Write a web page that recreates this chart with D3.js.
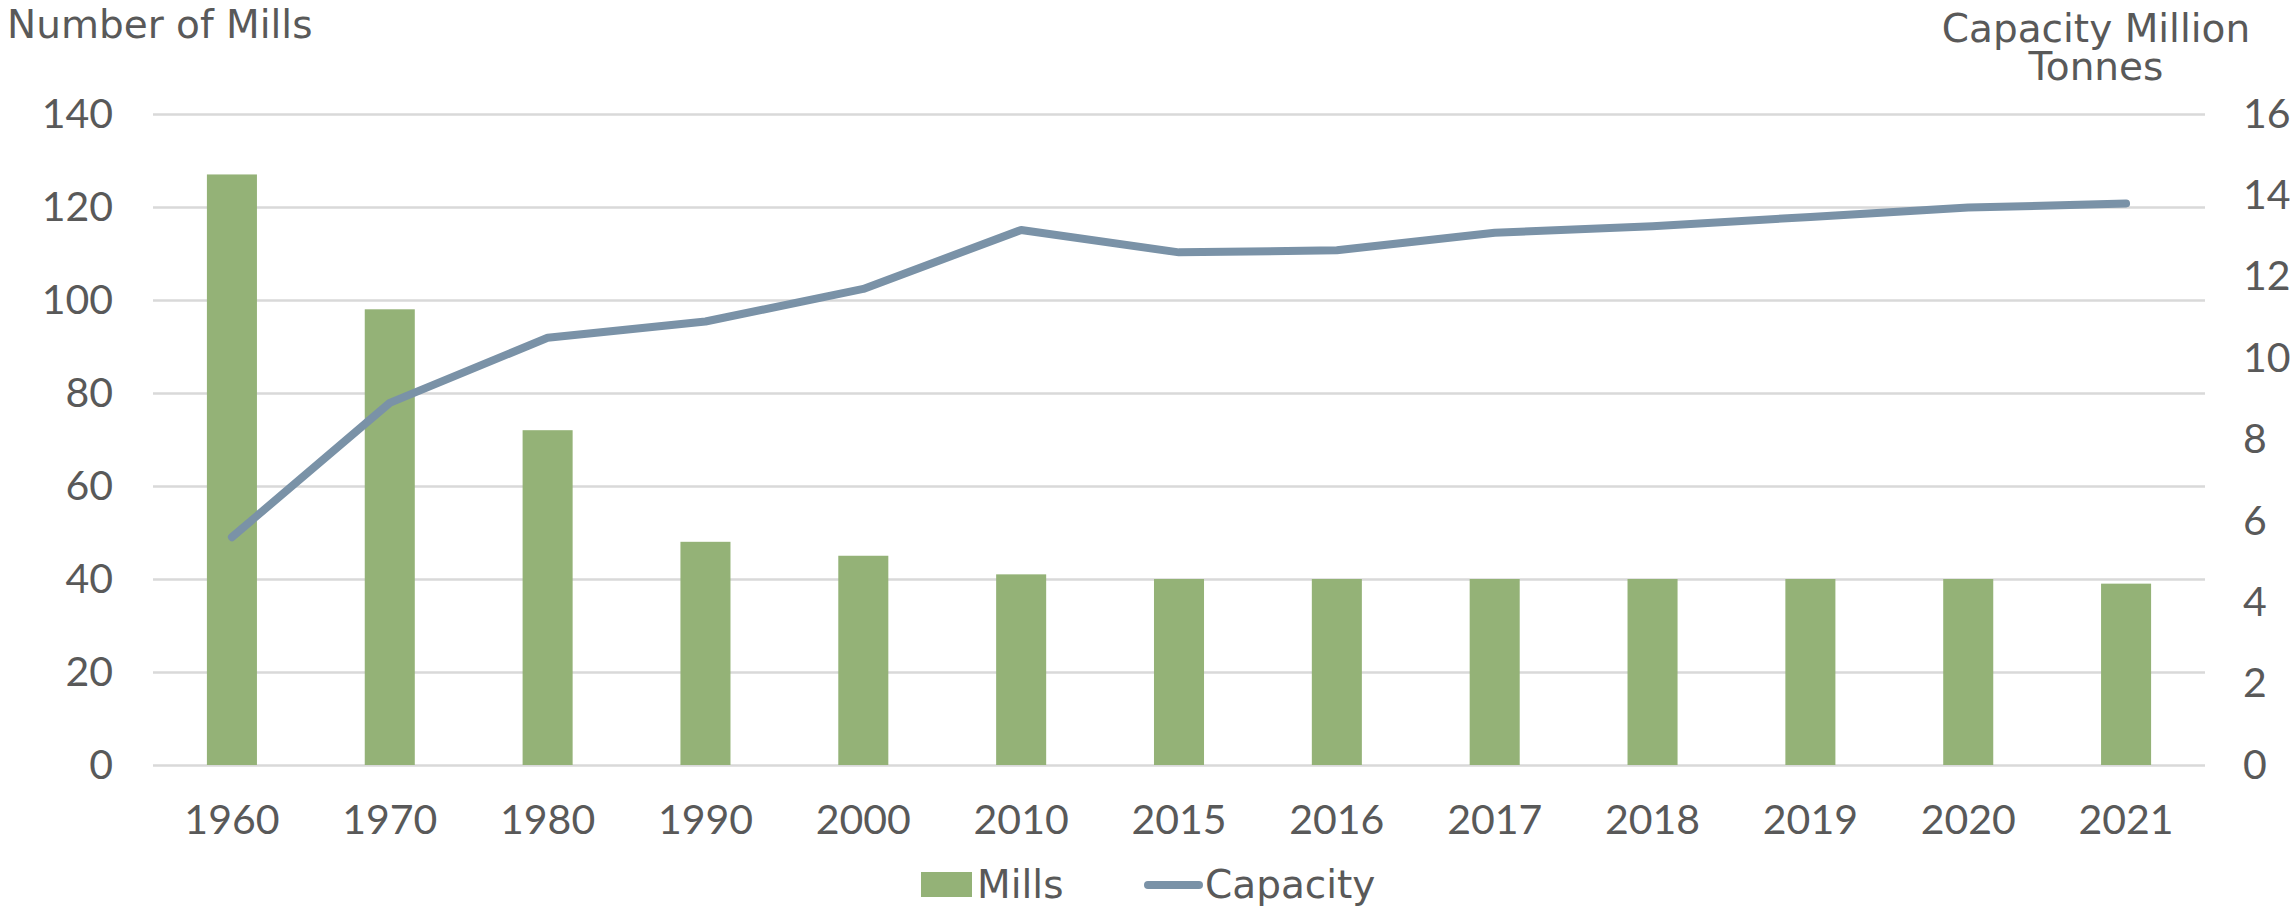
<!DOCTYPE html>
<style>
  html, body { margin:0; background:#fff; }
  svg { display:block; }
  text { font-family: "DejaVu Sans", sans-serif; fill:#595959; }
</style>

<svg width="2292" height="909"></svg>
<script src="https://d3js.org/d3.v7.min.js"></script>
<script>

var years = ["1960", "1970", "1980", "1990", "2000", "2010", "2015", "2016", "2017", "2018", "2019", "2020", "2021"];
var mills = [127, 98, 72, 48, 45, 41, 40, 40, 40, 40, 40, 40, 39];
var capacity = [5.6, 8.9, 10.5, 10.9, 11.7, 13.15, 12.6, 12.65, 13.08, 13.24, 13.47, 13.7, 13.8];
var millTicks = [0, 20, 40, 60, 80, 100, 120, 140];
var capTicks = [0, 2, 4, 6, 8, 10, 12, 14, 16];

var svg = d3.select("svg"),
    plotLeft = 153, plotRight = 2205, plotTop = 114, plotBottom = 765;

var x = d3.scaleBand()
    .domain(years)
    .range([plotLeft, plotRight])
    .paddingInner(0.683)
    .paddingOuter(0.3415);

var yMills = d3.scaleLinear().domain([0, 140]).range([plotBottom, plotTop]);
var yCap = d3.scaleLinear().domain([0, 16]).range([plotBottom, plotTop]);

// gridlines
svg.append("g")
    .attr("transform", "translate(" + plotLeft + ",0)")
    .call(d3.axisLeft(yMills).tickValues(millTicks).tickSize(-(plotRight - plotLeft)).tickFormat(""))
    .call(function(g) { g.select(".domain").remove(); })
    .selectAll("line")
    .attr("stroke", "#d9d9d9")
    .attr("stroke-width", 2.5);

function styleLabels(g) {
  g.select(".domain").remove();
  g.selectAll("text")
      .attr("fill", "#595959")
      .style("font-family", "Lato")
      .style("font-size", "41px");
}

// left axis labels
svg.append("g")
    .attr("transform", "translate(" + plotLeft + ",0)")
    .call(d3.axisLeft(yMills).tickValues(millTicks).tickSize(0).tickPadding(40))
    .call(styleLabels);

// right axis labels
svg.append("g")
    .attr("transform", "translate(" + plotRight + ",0)")
    .call(d3.axisRight(yCap).tickValues(capTicks).tickSize(0).tickPadding(38))
    .call(styleLabels);

// bottom axis labels
svg.append("g")
    .attr("transform", "translate(0," + plotBottom + ")")
    .call(d3.axisBottom(x).tickSize(0).tickPadding(40))
    .call(styleLabels);

// bars
svg.append("g")
  .selectAll("rect")
  .data(years)
  .enter().append("rect")
    .attr("x", function(d) { return x(d); })
    .attr("y", function(d, i) { return yMills(mills[i]); })
    .attr("width", x.bandwidth())
    .attr("height", function(d, i) { return plotBottom - yMills(mills[i]); })
    .attr("fill", "#94b277");

// capacity line
var line = d3.line()
    .x(function(d, i) { return x(years[i]) + x.bandwidth() / 2; })
    .y(function(d) { return yCap(d); });

svg.append("path")
    .datum(capacity)
    .attr("d", line)
    .attr("fill", "none")
    .attr("stroke", "#7a92a7")
    .attr("stroke-width", 8)
    .attr("stroke-linecap", "round")
    .attr("stroke-linejoin", "round");

// axis titles
svg.append("text")
    .attr("x", 7)
    .attr("y", 38)
    .style("font-size", "39px")
    .text("Number of Mills");

svg.append("text")
    .attr("x", 2096)
    .attr("y", 42)
    .attr("text-anchor", "middle")
    .style("font-size", "39px")
    .text("Capacity Million");

svg.append("text")
    .attr("x", 2096)
    .attr("y", 80)
    .attr("text-anchor", "middle")
    .style("font-size", "39px")
    .text("Tonnes");

// legend
var legend = svg.append("g");

legend.append("rect")
    .attr("x", 921)
    .attr("y", 872)
    .attr("width", 51)
    .attr("height", 25)
    .attr("fill", "#94b277");

legend.append("text")
    .attr("x", 977)
    .attr("y", 898)
    .style("font-size", "39px")
    .text("Mills");

legend.append("line")
    .attr("x1", 1148)
    .attr("x2", 1199)
    .attr("y1", 885)
    .attr("y2", 885)
    .attr("stroke", "#7a92a7")
    .attr("stroke-width", 8)
    .attr("stroke-linecap", "round");

legend.append("text")
    .attr("x", 1205)
    .attr("y", 898)
    .style("font-size", "39px")
    .text("Capacity");

</script>
